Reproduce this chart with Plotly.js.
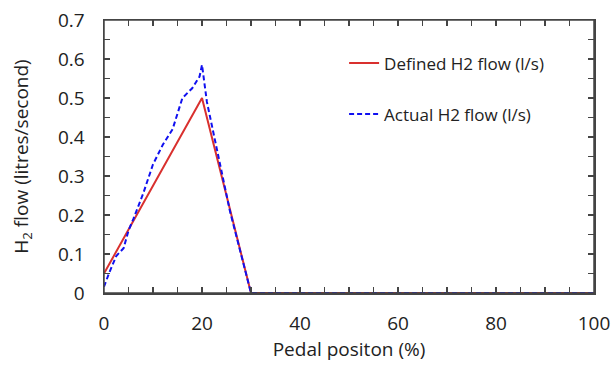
<!DOCTYPE html>
<html>
<head>
<meta charset="utf-8">
<script src="https://cdn.plot.ly/plotly-3.0.1.min.js"></script>
<style>html,body{margin:0;padding:0;background:#fff}#chart{width:614px;height:365px}</style>
</head>
<body>
<div id="chart"></div>
<script>
const definedX = [0, 20, 30, 100];
const definedY = [0.05, 0.5, 0, 0];
const actualX = [0, 1, 2.5, 4, 5, 6, 8, 10, 12, 14, 16, 18, 19.5, 20, 21, 25.7, 30, 100];
const actualY = [0.016, 0.05, 0.095, 0.115, 0.16, 0.19, 0.255, 0.33, 0.38, 0.42, 0.5, 0.525, 0.555, 0.585, 0.49, 0.21, 0, 0];
const xTickStep = 20;
const yTickStep = 0.1;
const names = ['Defined H2 flow (l/s)', 'Actual H2 flow (l/s)'];

const font = 'Open Sans, Liberation Sans, sans-serif';
const traces = [
  {x: definedX, y: definedY, mode: 'lines', name: names[0], legendgroup: 'a',
   line: {color: '#d9302e', width: 2}},
  {x: actualX, y: actualY, mode: 'lines', name: names[1], legendgroup: 'b', xaxis: 'x2', yaxis: 'y2',
   line: {color: '#1010f0', width: 2, dash: '5px,3px'}}
];
const lineStyle = {showline: true, linecolor: '#444', linewidth: 1.5, showgrid: false, zeroline: false};
const tickStyle = {ticks: 'inside', ticklen: 6, tickcolor: '#444', tickwidth: 1.5};
const layout = {
  width: 614, height: 365,
  margin: {l: 104, r: 20, t: 20, b: 72},
  paper_bgcolor: '#fff', plot_bgcolor: 'rgba(0,0,0,0)',
  showlegend: true,
  legend: {x: 0.49, y: 0.907, xanchor: 'left', yanchor: 'top', bgcolor: 'rgba(0,0,0,0)',
           font: {family: font, size: 17, color: '#222'}, itemwidth: 30,
           tracegroupgap: 26, traceorder: 'grouped'},
  xaxis: Object.assign({}, lineStyle, {
    range: [0, 100], tickmode: 'linear', tick0: 0, dtick: xTickStep, ticks: '',
    ticklabelstandoff: 13, tickfont: {family: font, size: 19, color: '#222'},
    title: {text: 'Pedal positon (%)', font: {family: font, size: 19, color: '#222'}, standoff: 7}
  }),
  yaxis: Object.assign({}, lineStyle, {
    range: [0, 0.7], tickmode: 'linear', tick0: 0, dtick: yTickStep, ticks: '',
    ticklabelstandoff: 14, tickfont: {family: font, size: 19, color: '#222'},
    title: {text: 'H<sub>2</sub> flow (litres/second)', font: {family: font, size: 19, color: '#222'}, standoff: 24}
  }),
  xaxis2: Object.assign({}, lineStyle, tickStyle, {
    overlaying: 'x', matches: 'x', anchor: 'y2', side: 'bottom', mirror: 'allticks',
    range: [0, 100], tickmode: 'linear', tick0: 0, dtick: xTickStep, showticklabels: false,
    minor: {dtick: 5, ticks: 'inside', ticklen: 6, tickcolor: '#444', tickwidth: 1.5}
  }),
  yaxis2: Object.assign({}, lineStyle, tickStyle, {
    overlaying: 'y', matches: 'y', anchor: 'x2', side: 'left', mirror: 'allticks',
    range: [0, 0.7], tickmode: 'linear', tick0: 0, dtick: yTickStep, showticklabels: false,
    minor: {dtick: 0.05, ticks: 'inside', ticklen: 6, tickcolor: '#444', tickwidth: 1.5}
  }),
  shapes: [{type: 'rect', xref: 'paper', yref: 'paper', x0: 0, x1: 1, y0: 0, y1: 1,
            line: {color: '#444', width: 1.5}, layer: 'above'}]
};
Plotly.newPlot('chart', traces, layout, {displayModeBar: false, staticPlot: true});
</script>
</body>
</html>
